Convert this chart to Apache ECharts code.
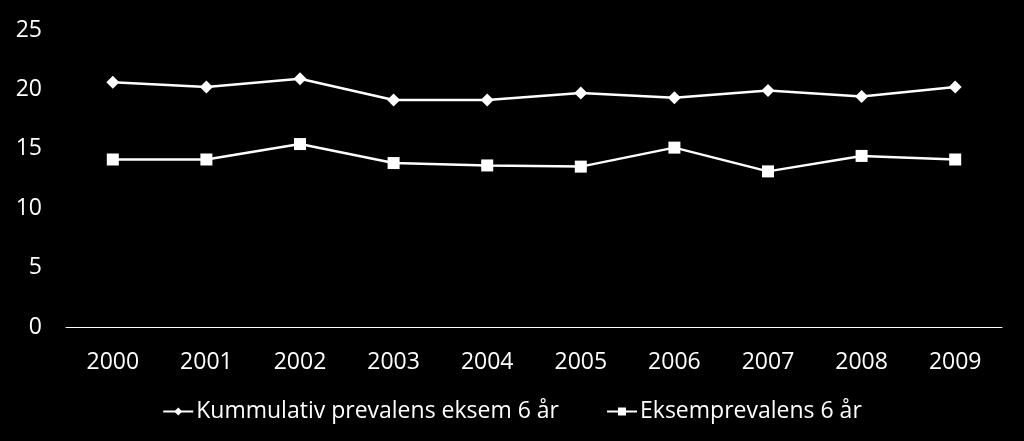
<!DOCTYPE html>
<html><head><meta charset="utf-8">
<script src="https://cdn.jsdelivr.net/npm/echarts@6/dist/echarts.min.js"></script>
<style>html,body{margin:0;padding:0;background:#000;}#c{width:1024px;height:441px;}</style>
</head><body><div id="c"></div>
<script>
const years = ['2000','2001','2002','2003','2004','2005','2006','2007','2008','2009'];
const kummulativ = [20.6, 20.2, 20.9, 19.1, 19.1, 19.7, 19.3, 19.9, 19.4, 20.2];
const eksemprevalens = [14.1, 14.1, 15.4, 13.8, 13.6, 13.5, 15.1, 13.1, 14.4, 14.1];
const seriesNames = ['Kummulativ prevalens eksem 6 år', 'Eksemprevalens 6 år'];
const yTicks = {min: 0, max: 25, interval: 5};

const font = '"Open Sans", sans-serif';
const chart = echarts.init(document.getElementById('c'));
chart.setOption({
  backgroundColor: '#000',
  animation: false,
  textStyle: {fontFamily: font, color: '#fff'},
  grid: {left: 66, right: 22, top: 30, bottom: 114},
  legend: {
    bottom: 13, left: 'center', itemGap: 47, itemWidth: 30, itemHeight: 10,
    textStyle: {color: '#fff', fontSize: 23, fontFamily: font, padding: [0,0,0,-2]},
    data: seriesNames
  },
  xAxis: {
    type: 'category', data: years, boundaryGap: true,
    axisLine: {lineStyle: {color: '#fff', width: 1}},
    axisTick: {show: false},
    axisLabel: {color: '#fff', fontSize: 23, margin: 24, fontFamily: font}
  },
  yAxis: {
    type: 'value', min: yTicks.min, max: yTicks.max, interval: yTicks.interval,
    axisLine: {show: false}, axisTick: {show: false}, splitLine: {show: false},
    axisLabel: {color: '#fff', fontSize: 23, margin: 24, fontFamily: font}
  },
  series: [
    {name: seriesNames[0], type: 'line', data: kummulativ, symbol: 'diamond', symbolSize: 13,
     lineStyle: {color: '#fff', width: 2.5}, itemStyle: {color: '#fff'}},
    {name: seriesNames[1], type: 'line', data: eksemprevalens, symbol: 'rect', symbolSize: 12,
     lineStyle: {color: '#fff', width: 2.5}, itemStyle: {color: '#fff'}}
  ]
});
</script></body></html>
